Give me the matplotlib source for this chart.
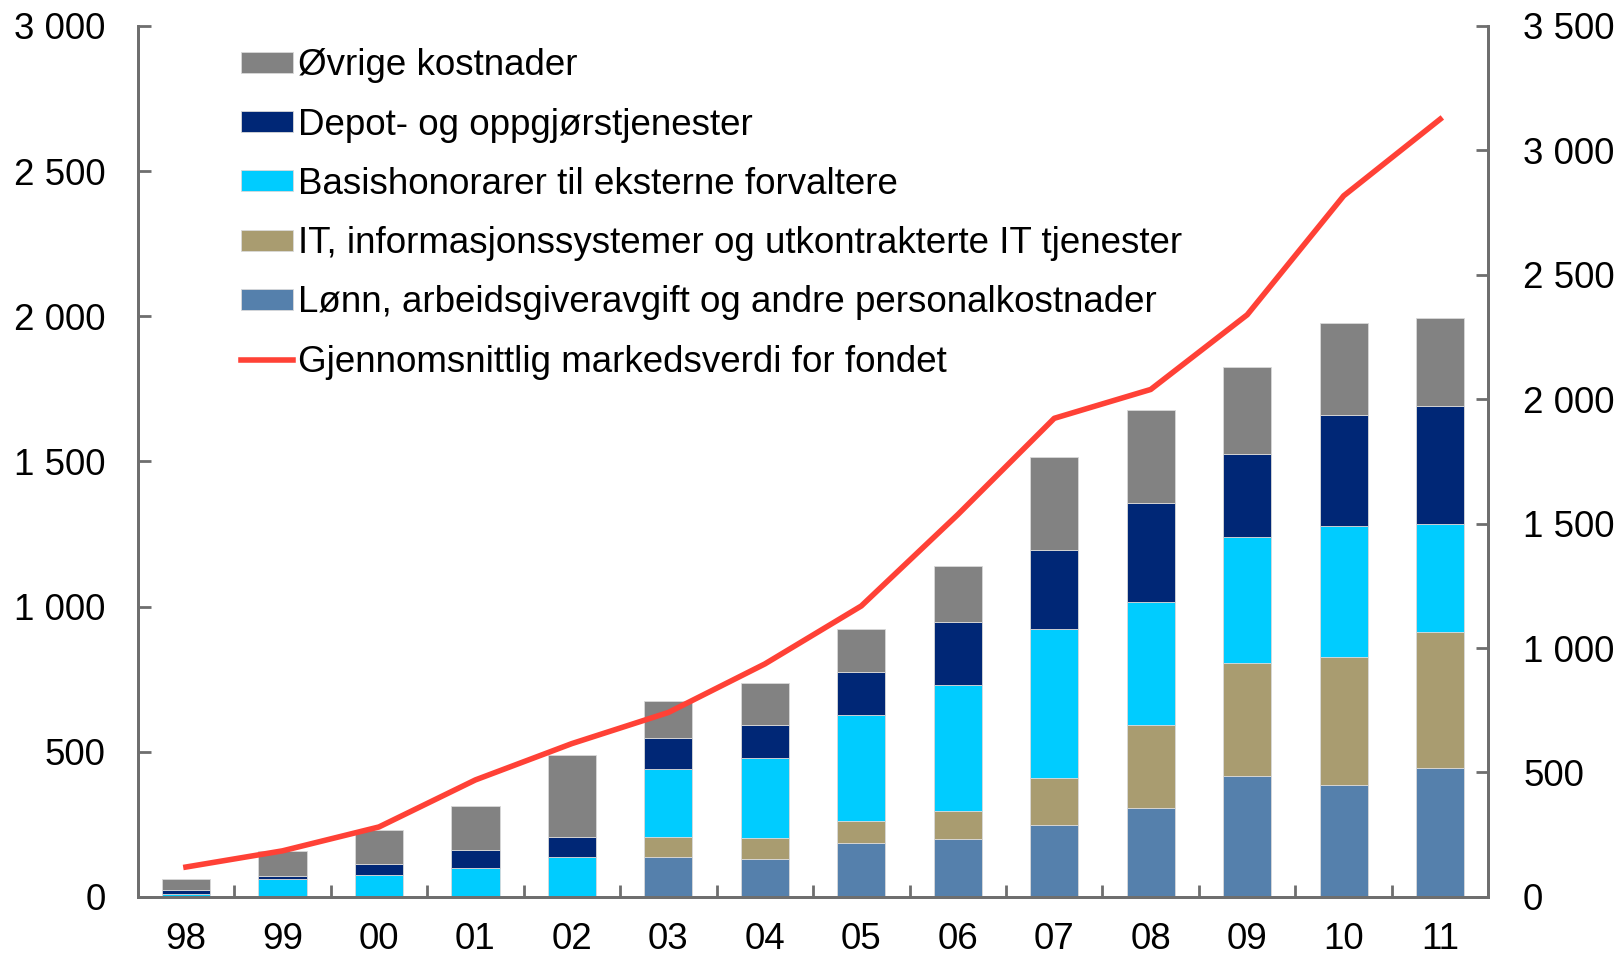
import matplotlib
matplotlib.use("Agg")
import matplotlib.pyplot as plt
from matplotlib.ticker import FuncFormatter, MultipleLocator, FixedLocator

plt.rcParams['font.family'] = ['Liberation Sans', 'DejaVu Sans']

# år (kategorier)
years = ["98", "99", "00", "01", "02", "03", "04", "05", "06", "07", "08", "09", "10", "11"]

# kostnader, mill. kroner (venstre akse)
lonn = [0, 0, 0, 0, 0, 138, 131, 184, 200, 248, 307, 416, 387, 445]
it = [0, 0, 0, 0, 0, 68, 72, 79, 97, 163, 286, 390, 439, 467]
basis = [9, 61, 75, 100, 137, 236, 276, 362, 433, 513, 422, 433, 453, 371]
depot = [14, 11, 38, 62, 70, 105, 112, 149, 217, 271, 341, 287, 380, 406]
ovrige = [39, 85, 118, 150, 282, 126, 145, 147, 192, 321, 321, 300, 316, 305]

# gjennomsnittlig markedsverdi (høyre akse)
markedsverdi = [120, 185, 281, 470, 616, 741, 936, 1169, 1536, 1923, 2039, 2339, 2817, 3125]

series = [
    ("Lønn, arbeidsgiveravgift og andre personalkostnader", lonn, "#5580ac"),
    ("IT, informasjonssystemer og utkontrakterte IT tjenester", it, "#a99c70"),
    ("Basishonorarer til eksterne forvaltere", basis, "#00ccff"),
    ("Depot- og oppgjørstjenester", depot, "#002776"),
    ("Øvrige kostnader", ovrige, "#828282"),
]

fig = plt.figure(figsize=(16.24, 9.57), dpi=100)
ax = fig.add_axes([0.0848, 0.0628, 0.8317, 0.9102])
ax2 = ax.twinx()

x = list(range(len(years)))
bottom = [0] * len(years)
handles = {}
for name, vals, col in series:
    b = ax.bar(x, vals, width=0.5, bottom=bottom, color=col, edgecolor="#d9d9d9",
               linewidth=0.6, label=name, zorder=2)
    handles[name] = b
    bottom = [a + v for a, v in zip(bottom, vals)]

line, = ax2.plot(x, markedsverdi, color="#ff4136", linewidth=4, zorder=3,
                 label="Gjennomsnittlig markedsverdi for fondet")

fmt = FuncFormatter(lambda v, p: f"{int(v):,}".replace(",", " "))
spine_col = "#6e6e6e"
fs = 26.5

ax.set_xlim(-0.5, len(years) - 0.5)
ax.set_ylim(0, 3000)
ax2.set_ylim(0, 3500)
ax.yaxis.set_major_locator(MultipleLocator(500))
ax2.yaxis.set_major_locator(MultipleLocator(500))
ax.yaxis.set_major_formatter(fmt)
ax2.yaxis.set_major_formatter(fmt)

ax.set_xticks(x)
ax.set_xticklabels(years)
ax.xaxis.set_minor_locator(FixedLocator([i + 0.5 for i in x[:-1]]))
ax.tick_params(axis="x", which="major", length=0, pad=18, labelsize=fs)
ax.tick_params(axis="x", which="minor", direction="in", length=9, width=2, color=spine_col)
ax.tick_params(axis="y", direction="in", length=9, width=2, color=spine_col, pad=23, labelsize=fs)
ax2.tick_params(axis="y", direction="in", length=9, width=2, color=spine_col, pad=25, labelsize=fs)

for a in (ax, ax2):
    a.spines["top"].set_visible(False)
    for s in ("left", "right", "bottom"):
        a.spines[s].set_color(spine_col)
        a.spines[s].set_linewidth(2)

order = [series[4][0], series[3][0], series[2][0], series[1][0], series[0][0]]
leg_handles = [handles[n] for n in order] + [line]
leg_labels = order + [line.get_label()]
fig.legend(leg_handles, leg_labels, loc="upper left", bbox_to_anchor=(0.1395, 0.965),
           frameon=False, fontsize=fs, handlelength=1.41, handleheight=0.5,
           handletextpad=0.14, labelspacing=0.66, borderaxespad=0)

fig.savefig("out.png", dpi=100)
